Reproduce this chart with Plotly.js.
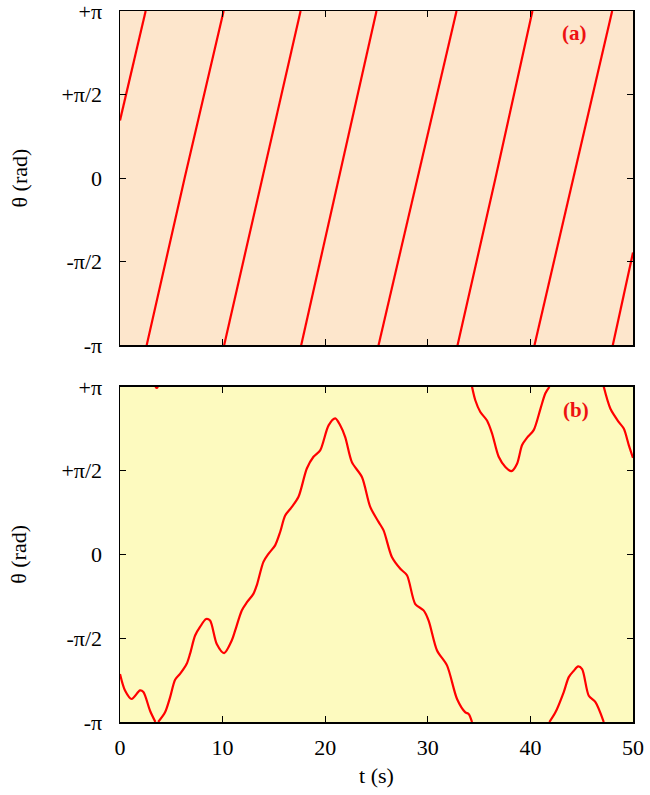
<!DOCTYPE html>
<html>
<head>
<meta charset="utf-8">
<script src="https://cdn.plot.ly/plotly-3.0.1.min.js"></script>
<style>html,body{margin:0;padding:0;background:#fff;}#chart{width:650px;height:795px;}</style>
</head>
<body>
<div id="chart"></div>
<script>
// Panel (a): wrapped phase, null marks a wrap from +pi to -pi
const tA = [0, 2.5, null, 2.6, 6.3, 10.1, null, 10.15, 13.9, 17.6, null, 17.66, 21.3, 25.0, null, 25.2, 29.0, 32.8, null, 32.9, 36.6, 40.2, null, 40.4, 44.2, 47.97, null, 48.03, 50.0];
const thA = [1.085, 3.1416, null, -3.1416, 0.0, 3.1416, null, -3.1416, 0.0, 3.1416, null, -3.1416, 0.0, 3.1416, null, -3.1416, 0.0, 3.1416, null, -3.1416, 0.0, 3.1416, null, -3.1416, 0.0, 3.1416, null, -3.1416, -1.40];

// Panel (b)
const tB = [0.0, 0.49, 1.14, 1.95, 2.28, 2.93, 3.45, null,
  3.45, 3.58, 3.70, null,
  3.72, 4.39, 4.88, 5.37, 5.85, 6.5, 6.83, 7.32, 7.8, 8.39, 8.78, 9.43, 10.15, 10.9, 11.22, 11.87, 12.36, 13.0, 13.33, 13.98, 14.47, 15.12, 15.61, 16.1, 16.75, 17.4, 18.21, 18.86, 19.51, 20.33, 20.98, 21.46, 21.95, 22.6, 23.58, 24.39, 25.2, 25.69, 26.5, 27.32, 27.97, 28.78, 29.59, 30.08, 30.9, 31.87, 32.85, 33.66, 33.98, 34.31, null,
  34.31, 34.63, 35.12, 35.77, 36.26, 36.91, 37.56, 38.15, 38.7, 39.19, 39.68, 40.32, 40.98, 41.46, 41.85, null,
  41.85, 42.44, 43.25, 43.74, 44.23, 44.65, 45.04, 45.69, 46.34, 47.15, null,
  47.15, 47.8, 48.62, 49.1, 49.59, 50.0];
const thB = [-2.24, -2.55, -2.71, -2.55, -2.58, -2.93, -3.1416, null,
  3.1416, 3.12, 3.1416, null,
  -3.1416, -2.96, -2.68, -2.35, -2.24, -2.05, -1.86, -1.52, -1.36, -1.21, -1.24, -1.68, -1.85, -1.61, -1.43, -1.05, -0.90, -0.74, -0.58, -0.14, 0.01, 0.17, 0.42, 0.73, 0.89, 1.08, 1.61, 1.83, 1.95, 2.42, 2.55, 2.42, 2.20, 1.73, 1.45, 0.89, 0.61, 0.45, -0.05, -0.27, -0.39, -0.93, -1.05, -1.24, -1.80, -2.08, -2.71, -2.96, -2.99, -3.1416, null,
  3.1416, 2.89, 2.67, 2.51, 2.27, 1.83, 1.64, 1.56, 1.70, 2.05, 2.19, 2.33, 2.73, 3.02, 3.1416, null,
  -3.1416, -2.96, -2.58, -2.30, -2.18, -2.10, -2.15, -2.65, -2.77, -3.1416, null,
  3.1416, 2.73, 2.48, 2.36, 2.05, 1.81];

const yTickVals = [-Math.PI, -Math.PI/2, 0, Math.PI/2, Math.PI];
const yTickText = ['-π', '-π/2', '0', '+π/2', '+π'];
const xTickVals = [0, 10, 20, 30, 40, 50];
const panelLabels = ['(a)', '(b)'];

const FONT = '"Liberation Serif", "Times New Roman", serif';
const lineStyle = {color: '#ff0000', width: 2.2};

const traces = [
  {x: tA, y: thA, xaxis: 'x', yaxis: 'y', mode: 'lines', line: lineStyle, connectgaps: false, hoverinfo: 'skip'},
  {x: tB, y: thB, xaxis: 'x2', yaxis: 'y2', mode: 'lines', line: Object.assign({shape: 'spline', smoothing: 0.8}, lineStyle), connectgaps: false, hoverinfo: 'skip'}
];

const axCommon = {
  showline: true, linecolor: '#000', linewidth: 1.5, mirror: 'allticks',
  ticks: 'inside', ticklen: 6, tickwidth: 1, tickcolor: '#000',
  showgrid: false, zeroline: false, ticklabeloverflow: 'allow',
  tickfont: {family: FONT, size: 22, color: '#000'}
};

const titleFont = {family: FONT, size: 22, color: '#000'};

const layout = {
  width: 650, height: 795,
  margin: {l: 120, r: 17, t: 11, b: 73},
  paper_bgcolor: '#ffffff', plot_bgcolor: 'rgba(0,0,0,0)',
  showlegend: false,
  font: {family: FONT},
  xaxis: Object.assign({}, axCommon, {anchor: 'y', domain: [0, 1], range: [0, 50], tickvals: xTickVals, showticklabels: false}),
  yaxis: Object.assign({}, axCommon, {anchor: 'x', domain: [0.53, 1], range: [-Math.PI, Math.PI], tickvals: yTickVals, ticktext: yTickText, ticklabelstandoff: 12,
    title: {text: 'θ (rad)', font: titleFont, standoff: 28}}),
  xaxis2: Object.assign({}, axCommon, {anchor: 'y2', domain: [0, 1], range: [0, 50], tickvals: xTickVals, ticklabelstandoff: 5,
    title: {text: 't (s)', font: titleFont, standoff: 8}}),
  yaxis2: Object.assign({}, axCommon, {anchor: 'x2', domain: [0, 0.4714], range: [-Math.PI, Math.PI], tickvals: yTickVals, ticktext: yTickText, ticklabelstandoff: 12,
    title: {text: 'θ (rad)', font: titleFont, standoff: 28}}),
  shapes: [
    {type: 'rect', xref: 'x domain', yref: 'y domain', x0: 0, x1: 1, y0: 0, y1: 1, fillcolor: '#fde6cc', line: {width: 0}, layer: 'below'},
    {type: 'rect', xref: 'x2 domain', yref: 'y2 domain', x0: 0, x1: 1, y0: 0, y1: 1, fillcolor: '#fdfabf', line: {width: 0}, layer: 'below'}
  ],
  annotations: [
    {text: '<b>' + panelLabels[0] + '</b>', xref: 'x domain', yref: 'y domain', x: 0.886, y: 0.934, xanchor: 'center', yanchor: 'middle', showarrow: false, font: {family: FONT, size: 21, color: '#ee1111'}},
    {text: '<b>' + panelLabels[1] + '</b>', xref: 'x2 domain', yref: 'y2 domain', x: 0.888, y: 0.93, xanchor: 'center', yanchor: 'middle', showarrow: false, font: {family: FONT, size: 21, color: '#ee1111'}}
  ]
};

Plotly.newPlot('chart', traces, layout, {staticPlot: true, displayModeBar: false});
</script>
</body>
</html>
